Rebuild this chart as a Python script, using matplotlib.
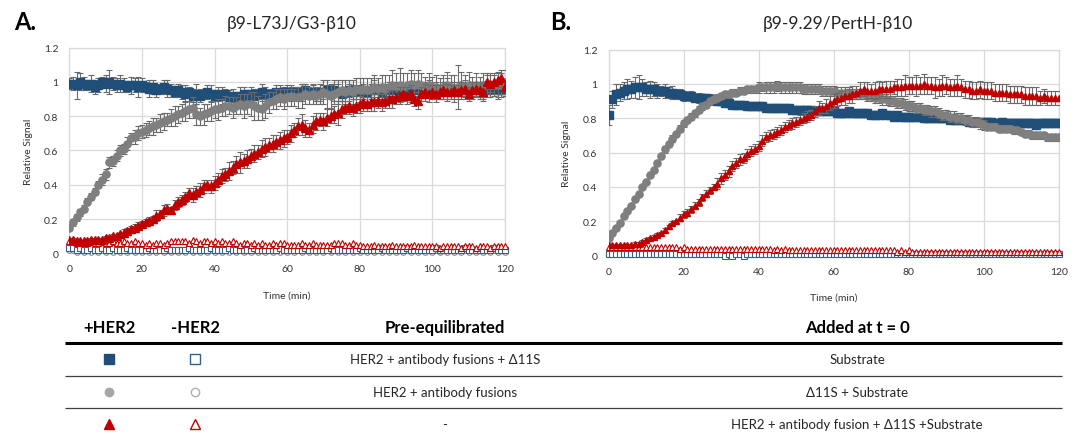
import numpy as np
import matplotlib
matplotlib.use("Agg")
import matplotlib.pyplot as plt

plt.rcParams['font.family'] = ['Lato', 'DejaVu Sans']

# time axis, one read every minute
time_min = np.arange(0, 121)

# ---- panel A: b9-L73J/G3-b10 ----
A_sq = [0.99, 0.99, 0.98, 1.00, 0.99, 0.98, 0.99, 0.97, 0.98, 1.00, 0.99,
        1.00, 0.99, 0.98, 0.99, 0.98, 0.97, 0.98, 0.98, 0.97, 0.98,
        0.97, 0.96, 0.97, 0.95, 0.96, 0.97, 0.96, 0.95, 0.94, 0.95,
        0.94, 0.93, 0.94, 0.92, 0.93, 0.92, 0.93, 0.94, 0.93, 0.92,
        0.93, 0.92, 0.93, 0.91, 0.92, 0.91, 0.92, 0.93, 0.92, 0.93,
        0.92, 0.93, 0.94, 0.93, 0.92, 0.93, 0.94, 0.93, 0.94, 0.94,
        0.93, 0.94, 0.93, 0.94, 0.95, 0.93, 0.94, 0.93, 0.94, 0.94,
        0.95, 0.94, 0.95, 0.94, 0.93, 0.94, 0.95, 0.94, 0.95, 0.94,
        0.95, 0.94, 0.95, 0.96, 0.95, 0.94, 0.95, 0.96, 0.95, 0.96,
        0.95, 0.96, 0.95, 0.96, 0.95, 0.96, 0.95, 0.96, 0.97, 0.96,
        0.96, 0.95, 0.96, 0.97, 0.96, 0.95, 0.96, 0.96, 0.95, 0.96,
        0.96, 0.95, 0.96, 0.95, 0.95, 0.96, 0.96, 0.95, 0.95, 0.96]
A_sq_err = [0.03, 0.04, 0.08, 0.05, 0.04, 0.03, 0.05, 0.04, 0.04, 0.03, 0.05,
            0.07, 0.04, 0.04, 0.05, 0.04, 0.03, 0.05, 0.04, 0.06, 0.04,
            0.03, 0.05, 0.04, 0.04, 0.03, 0.04, 0.05, 0.04, 0.03, 0.04,
            0.04, 0.05, 0.03, 0.04, 0.06, 0.04, 0.03, 0.04, 0.05, 0.03,
            0.04, 0.05, 0.03, 0.04, 0.04, 0.03, 0.05, 0.04, 0.03, 0.04,
            0.04, 0.03, 0.05, 0.04, 0.04, 0.03, 0.04, 0.05, 0.03, 0.04,
            0.04, 0.03, 0.04, 0.05, 0.04, 0.03, 0.04, 0.04, 0.05, 0.04,
            0.03, 0.04, 0.06, 0.05, 0.04, 0.03, 0.04, 0.04, 0.03, 0.04,
            0.04, 0.03, 0.04, 0.05, 0.04, 0.03, 0.04, 0.04, 0.03, 0.04,
            0.04, 0.03, 0.04, 0.04, 0.05, 0.04, 0.03, 0.04, 0.04, 0.03,
            0.04, 0.03, 0.04, 0.05, 0.04, 0.03, 0.04, 0.04, 0.03, 0.04,
            0.04, 0.03, 0.04, 0.05, 0.04, 0.03, 0.04, 0.05, 0.04, 0.04]

A_ci = [0.15, 0.18, 0.21, 0.24, 0.26, 0.30, 0.33, 0.36, 0.40, 0.43, 0.46,
        0.53, 0.54, 0.57, 0.60, 0.61, 0.64, 0.67, 0.68, 0.70, 0.71,
        0.72, 0.73, 0.74, 0.75, 0.76, 0.77, 0.78, 0.79, 0.80, 0.81,
        0.82, 0.83, 0.84, 0.85, 0.81, 0.80, 0.81, 0.82, 0.83, 0.84,
        0.84, 0.85, 0.86, 0.86, 0.85, 0.86, 0.87, 0.86, 0.87, 0.87,
        0.86, 0.85, 0.84, 0.86, 0.88, 0.89, 0.90, 0.91, 0.90, 0.91,
        0.92, 0.91, 0.91, 0.92, 0.93, 0.92, 0.93, 0.92, 0.93, 0.94,
        0.93, 0.92, 0.93, 0.94, 0.95, 0.94, 0.95, 0.94, 0.96, 0.95,
        0.96, 0.95, 0.96, 0.97, 0.96, 0.97, 0.96, 0.97, 0.98, 0.97,
        0.98, 0.97, 0.98, 0.99, 0.98, 0.99, 0.98, 0.97, 0.98, 0.97,
        0.97, 0.96, 0.97, 0.98, 0.97, 0.96, 0.97, 0.98, 0.97, 0.98,
        0.97, 0.98, 0.97, 0.98, 0.99, 0.98, 0.99, 0.98, 0.99, 1.00]
A_ci_err = [0.01, 0.02, 0.02, 0.02, 0.02, 0.02, 0.02, 0.02, 0.02, 0.03, 0.03,
            0.03, 0.03, 0.03, 0.03, 0.03, 0.04, 0.03, 0.04, 0.04, 0.04,
            0.04, 0.04, 0.05, 0.04, 0.05, 0.05, 0.04, 0.05, 0.06, 0.05,
            0.05, 0.06, 0.05, 0.06, 0.06, 0.05, 0.06, 0.05, 0.06, 0.05,
            0.06, 0.05, 0.06, 0.05, 0.06, 0.05, 0.06, 0.07, 0.06, 0.07,
            0.08, 0.07, 0.06, 0.07, 0.06, 0.05, 0.06, 0.05, 0.06, 0.05,
            0.06, 0.05, 0.06, 0.07, 0.06, 0.05, 0.06, 0.05, 0.06, 0.07,
            0.08, 0.07, 0.06, 0.07, 0.06, 0.07, 0.06, 0.07, 0.06, 0.07,
            0.06, 0.07, 0.06, 0.07, 0.06, 0.07, 0.08, 0.07, 0.09, 0.08,
            0.10, 0.08, 0.07, 0.08, 0.07, 0.08, 0.07, 0.06, 0.07, 0.06,
            0.07, 0.06, 0.07, 0.08, 0.07, 0.08, 0.13, 0.08, 0.07, 0.08,
            0.06, 0.07, 0.06, 0.07, 0.06, 0.07, 0.06, 0.07, 0.06, 0.07]

A_tri = [0.08, 0.08, 0.07, 0.07, 0.07, 0.07, 0.08, 0.08, 0.08, 0.08, 0.09,
         0.09, 0.10, 0.10, 0.11, 0.12, 0.13, 0.14, 0.15, 0.16, 0.17,
         0.18, 0.19, 0.20, 0.22, 0.23, 0.25, 0.26, 0.25, 0.28, 0.30,
         0.31, 0.33, 0.35, 0.34, 0.36, 0.37, 0.39, 0.40, 0.39, 0.41,
         0.43, 0.45, 0.46, 0.48, 0.50, 0.52, 0.53, 0.54, 0.55, 0.57,
         0.58, 0.59, 0.61, 0.62, 0.63, 0.64, 0.65, 0.66, 0.67, 0.68,
         0.70, 0.72, 0.74, 0.75, 0.73, 0.72, 0.75, 0.77, 0.78, 0.77,
         0.79, 0.80, 0.81, 0.82, 0.84, 0.85, 0.86, 0.85, 0.86, 0.87,
         0.88, 0.87, 0.88, 0.88, 0.89, 0.88, 0.89, 0.90, 0.90, 0.91,
         0.92, 0.93, 0.92, 0.93, 0.90, 0.89, 0.93, 0.94, 0.93, 0.94,
         0.93, 0.94, 0.95, 0.94, 0.94, 0.95, 0.94, 0.95, 0.96, 0.93,
         0.95, 0.96, 0.95, 0.94, 1.00, 0.99, 1.00, 1.01, 1.02, 0.97]
A_tri_err = [0.01, 0.01, 0.01, 0.01, 0.01, 0.01, 0.01, 0.01, 0.01, 0.01, 0.01,
             0.01, 0.01, 0.01, 0.01, 0.02, 0.02, 0.02, 0.02, 0.02, 0.02,
             0.02, 0.02, 0.02, 0.03, 0.02, 0.03, 0.03, 0.02, 0.03, 0.03,
             0.03, 0.03, 0.03, 0.04, 0.03, 0.04, 0.04, 0.03, 0.04, 0.04,
             0.04, 0.04, 0.04, 0.05, 0.04, 0.05, 0.06, 0.04, 0.05, 0.04,
             0.05, 0.04, 0.05, 0.05, 0.04, 0.05, 0.04, 0.05, 0.05, 0.04,
             0.05, 0.04, 0.05, 0.06, 0.05, 0.04, 0.05, 0.05, 0.04, 0.05,
             0.05, 0.04, 0.05, 0.07, 0.05, 0.04, 0.05, 0.05, 0.04, 0.05,
             0.05, 0.04, 0.05, 0.05, 0.04, 0.05, 0.04, 0.05, 0.05, 0.04,
             0.05, 0.04, 0.05, 0.05, 0.04, 0.05, 0.04, 0.05, 0.05, 0.04,
             0.05, 0.04, 0.05, 0.05, 0.04, 0.05, 0.04, 0.05, 0.05, 0.04,
             0.05, 0.04, 0.05, 0.05, 0.04, 0.05, 0.04, 0.05, 0.05, 0.04]

A_tri_open = [0.07, 0.07, 0.06, 0.06, 0.06, 0.06, 0.07, 0.06, 0.06, 0.07, 0.06,
              0.06, 0.07, 0.06, 0.06, 0.07, 0.06, 0.06, 0.07, 0.06, 0.06,
              0.05, 0.06, 0.05, 0.06, 0.06, 0.05, 0.06, 0.07, 0.07, 0.07,
              0.07, 0.07, 0.06, 0.08, 0.07, 0.06, 0.07, 0.07, 0.06, 0.07,
              0.06, 0.07, 0.06, 0.06, 0.07, 0.06, 0.05, 0.06, 0.06, 0.05,
              0.06, 0.05, 0.06, 0.05, 0.05, 0.06, 0.05, 0.06, 0.06, 0.05,
              0.05, 0.05, 0.05, 0.06, 0.05, 0.05, 0.06, 0.05, 0.05, 0.05,
              0.05, 0.05, 0.06, 0.06, 0.06, 0.05, 0.05, 0.06, 0.05, 0.05,
              0.04, 0.04, 0.04, 0.05, 0.04, 0.04, 0.04, 0.04, 0.05, 0.04,
              0.04, 0.04, 0.04, 0.04, 0.05, 0.04, 0.04, 0.04, 0.04, 0.04,
              0.04, 0.03, 0.04, 0.04, 0.04, 0.04, 0.04, 0.03, 0.04, 0.04,
              0.04, 0.03, 0.04, 0.04, 0.04, 0.03, 0.04, 0.04, 0.04, 0.04]
A_sq_open = [0.03, 0.03, 0.02, 0.03, 0.02, 0.02, 0.03, 0.02, 0.02, 0.03, 0.02,
             0.02, 0.03, 0.02, 0.02, 0.02, 0.03, 0.02, 0.02, 0.02, 0.02,
             0.02, 0.03, 0.02, 0.02, 0.02, 0.02, 0.03, 0.02, 0.02, 0.02,
             0.02, 0.02, 0.03, 0.02, 0.02, 0.02, 0.02, 0.02, 0.03, 0.02,
             0.02, 0.02, 0.02, 0.03, 0.02, 0.02, 0.02, 0.02, 0.02, 0.02,
             0.03, 0.02, 0.02, 0.02, 0.02, 0.02, 0.02, 0.03, 0.02, 0.02,
             0.02, 0.02, 0.02, 0.02, 0.03, 0.02, 0.02, 0.02, 0.02, 0.02,
             0.02, 0.03, 0.02, 0.02, 0.02, 0.02, 0.02, 0.02, 0.02, 0.03,
             0.02, 0.02, 0.02, 0.02, 0.02, 0.03, 0.02, 0.02, 0.02, 0.02,
             0.02, 0.02, 0.03, 0.02, 0.02, 0.02, 0.02, 0.02, 0.02, 0.02,
             0.03, 0.02, 0.02, 0.02, 0.02, 0.02, 0.02, 0.02, 0.03, 0.02,
             0.02, 0.02, 0.02, 0.02, 0.02, 0.02, 0.03, 0.02, 0.02, 0.02]
A_ci_open = [0.02, 0.02, 0.01, 0.02, 0.01, 0.02, 0.01, 0.02, 0.01, 0.02, 0.01,
             0.02, 0.01, 0.02, 0.01, 0.02, 0.01, 0.02, 0.01, 0.02, 0.01,
             0.02, 0.01, 0.02, 0.01, 0.02, 0.01, 0.02, 0.01, 0.02, 0.01,
             0.02, 0.01, 0.02, 0.01, 0.02, 0.01, 0.02, 0.01, 0.02, 0.01,
             0.02, 0.01, 0.02, 0.01, 0.02, 0.01, 0.02, 0.01, 0.02, 0.01,
             0.02, 0.01, 0.02, 0.01, 0.02, 0.01, 0.02, 0.01, 0.02, 0.01,
             0.02, 0.01, 0.02, 0.01, 0.02, 0.01, 0.02, 0.01, 0.02, 0.01,
             0.02, 0.01, 0.02, 0.01, 0.02, 0.01, 0.02, 0.01, 0.02, 0.01,
             0.02, 0.01, 0.02, 0.01, 0.02, 0.01, 0.02, 0.01, 0.02, 0.01,
             0.02, 0.01, 0.02, 0.01, 0.02, 0.01, 0.02, 0.01, 0.02, 0.01,
             0.02, 0.01, 0.02, 0.01, 0.02, 0.01, 0.02, 0.01, 0.02, 0.01,
             0.02, 0.01, 0.02, 0.01, 0.02, 0.01, 0.02, 0.01, 0.02, 0.01]

# ---- panel B: b9-9.29/PertH-b10 ----
B_sq = [0.82, 0.91, 0.94, 0.95, 0.96, 0.97, 0.97, 0.98, 0.98, 0.98, 0.97,
        0.97, 0.97, 0.96, 0.96, 0.96, 0.95, 0.95, 0.94, 0.94, 0.93,
        0.93, 0.93, 0.92, 0.92, 0.92, 0.92, 0.91, 0.91, 0.90, 0.90,
        0.89, 0.89, 0.88, 0.88, 0.88, 0.88, 0.87, 0.87, 0.87, 0.87,
        0.87, 0.86, 0.86, 0.86, 0.86, 0.86, 0.86, 0.86, 0.85, 0.85,
        0.85, 0.85, 0.85, 0.85, 0.84, 0.84, 0.84, 0.84, 0.84, 0.84,
        0.83, 0.83, 0.83, 0.84, 0.83, 0.83, 0.83, 0.83, 0.83, 0.82,
        0.82, 0.82, 0.83, 0.82, 0.82, 0.81, 0.82, 0.81, 0.81, 0.81,
        0.81, 0.81, 0.81, 0.80, 0.80, 0.80, 0.80, 0.80, 0.80, 0.80,
        0.79, 0.79, 0.79, 0.79, 0.79, 0.78, 0.78, 0.78, 0.78, 0.78,
        0.78, 0.78, 0.77, 0.77, 0.78, 0.77, 0.77, 0.77, 0.77, 0.77,
        0.77, 0.77, 0.77, 0.76, 0.77, 0.77, 0.77, 0.77, 0.77, 0.77]
B_sq_err = [0.06, 0.05, 0.06, 0.05, 0.05, 0.06, 0.05, 0.06, 0.07, 0.05, 0.04,
            0.05, 0.04, 0.04, 0.03, 0.04, 0.03, 0.04, 0.03, 0.03, 0.03,
            0.02, 0.03, 0.02, 0.03, 0.02, 0.02, 0.03, 0.02, 0.02, 0.02,
            0.02, 0.02, 0.02, 0.02, 0.02, 0.02, 0.02, 0.02, 0.02, 0.02,
            0.02, 0.02, 0.02, 0.02, 0.02, 0.02, 0.02, 0.02, 0.02, 0.02,
            0.02, 0.02, 0.02, 0.02, 0.02, 0.02, 0.02, 0.02, 0.02, 0.02,
            0.02, 0.02, 0.02, 0.02, 0.02, 0.02, 0.02, 0.02, 0.02, 0.02,
            0.02, 0.02, 0.02, 0.02, 0.02, 0.02, 0.02, 0.02, 0.02, 0.02,
            0.02, 0.02, 0.02, 0.02, 0.02, 0.02, 0.02, 0.02, 0.02, 0.02,
            0.02, 0.02, 0.02, 0.02, 0.02, 0.02, 0.02, 0.02, 0.02, 0.02,
            0.02, 0.02, 0.02, 0.02, 0.02, 0.02, 0.02, 0.02, 0.02, 0.02,
            0.02, 0.02, 0.02, 0.02, 0.02, 0.02, 0.02, 0.02, 0.02, 0.02]

B_ci = [0.10, 0.13, 0.16, 0.19, 0.23, 0.26, 0.29, 0.33, 0.36, 0.40, 0.43,
        0.47, 0.50, 0.54, 0.58, 0.62, 0.65, 0.68, 0.71, 0.74, 0.77,
        0.79, 0.81, 0.83, 0.85, 0.87, 0.88, 0.90, 0.91, 0.92, 0.93,
        0.94, 0.94, 0.95, 0.95, 0.96, 0.96, 0.97, 0.97, 0.97, 0.98,
        0.98, 0.98, 0.98, 0.98, 0.99, 0.98, 0.98, 0.98, 0.98, 0.98,
        0.98, 0.97, 0.97, 0.97, 0.97, 0.97, 0.96, 0.96, 0.96, 0.96,
        0.95, 0.95, 0.95, 0.95, 0.94, 0.94, 0.94, 0.94, 0.93, 0.93,
        0.92, 0.92, 0.91, 0.91, 0.90, 0.90, 0.89, 0.89, 0.88, 0.87,
        0.87, 0.86, 0.86, 0.85, 0.85, 0.84, 0.84, 0.83, 0.82, 0.82,
        0.81, 0.81, 0.80, 0.80, 0.79, 0.79, 0.78, 0.78, 0.77, 0.76,
        0.75, 0.75, 0.75, 0.74, 0.74, 0.74, 0.74, 0.73, 0.73, 0.72,
        0.71, 0.71, 0.70, 0.70, 0.70, 0.70, 0.69, 0.69, 0.69, 0.69]
B_ci_err = [0.01, 0.01, 0.01, 0.01, 0.01, 0.01, 0.01, 0.01, 0.01, 0.01, 0.01,
            0.01, 0.01, 0.01, 0.01, 0.02, 0.01, 0.02, 0.01, 0.02, 0.02,
            0.02, 0.02, 0.02, 0.02, 0.02, 0.02, 0.02, 0.02, 0.02, 0.02,
            0.02, 0.02, 0.02, 0.02, 0.02, 0.02, 0.02, 0.02, 0.02, 0.03,
            0.02, 0.03, 0.03, 0.03, 0.03, 0.03, 0.03, 0.03, 0.03, 0.03,
            0.03, 0.03, 0.03, 0.03, 0.03, 0.03, 0.03, 0.03, 0.03, 0.03,
            0.03, 0.03, 0.03, 0.03, 0.03, 0.03, 0.03, 0.03, 0.03, 0.03,
            0.03, 0.03, 0.03, 0.03, 0.03, 0.03, 0.03, 0.03, 0.03, 0.03,
            0.03, 0.03, 0.03, 0.03, 0.03, 0.03, 0.03, 0.03, 0.03, 0.03,
            0.03, 0.03, 0.03, 0.03, 0.03, 0.03, 0.03, 0.03, 0.03, 0.03,
            0.02, 0.02, 0.02, 0.02, 0.02, 0.02, 0.02, 0.02, 0.02, 0.02,
            0.02, 0.02, 0.02, 0.02, 0.02, 0.02, 0.02, 0.02, 0.02, 0.02]

B_tri = [0.06, 0.06, 0.06, 0.06, 0.06, 0.06, 0.06, 0.07, 0.07, 0.08, 0.09,
         0.10, 0.11, 0.12, 0.13, 0.15, 0.17, 0.19, 0.20, 0.22, 0.24,
         0.25, 0.27, 0.29, 0.31, 0.34, 0.36, 0.38, 0.40, 0.42, 0.45,
         0.47, 0.49, 0.52, 0.54, 0.56, 0.57, 0.59, 0.61, 0.62, 0.64,
         0.67, 0.69, 0.70, 0.71, 0.72, 0.73, 0.75, 0.76, 0.77, 0.78,
         0.79, 0.80, 0.81, 0.82, 0.84, 0.86, 0.86, 0.87, 0.89, 0.90,
         0.91, 0.92, 0.93, 0.93, 0.94, 0.95, 0.96, 0.97, 0.96, 0.96,
         0.96, 0.97, 0.97, 0.97, 0.97, 0.98, 0.98, 0.98, 0.99, 0.99,
         0.99, 0.99, 0.99, 1.00, 0.99, 0.99, 0.98, 0.98, 0.99, 0.99,
         0.98, 0.98, 0.99, 0.98, 0.97, 0.97, 0.96, 0.96, 0.97, 0.96,
         0.96, 0.96, 0.95, 0.95, 0.95, 0.95, 0.94, 0.94, 0.94, 0.94,
         0.93, 0.93, 0.93, 0.93, 0.92, 0.93, 0.92, 0.92, 0.92, 0.92]
B_tri_err = [0.01, 0.01, 0.01, 0.01, 0.01, 0.01, 0.01, 0.01, 0.01, 0.01, 0.01,
             0.01, 0.01, 0.01, 0.01, 0.01, 0.01, 0.01, 0.01, 0.02, 0.02,
             0.02, 0.02, 0.02, 0.02, 0.02, 0.02, 0.02, 0.02, 0.03, 0.03,
             0.03, 0.03, 0.03, 0.03, 0.03, 0.03, 0.03, 0.03, 0.03, 0.03,
             0.03, 0.03, 0.03, 0.03, 0.03, 0.03, 0.03, 0.03, 0.03, 0.03,
             0.03, 0.03, 0.03, 0.03, 0.03, 0.04, 0.03, 0.04, 0.04, 0.04,
             0.04, 0.04, 0.05, 0.04, 0.05, 0.04, 0.05, 0.04, 0.05, 0.04,
             0.05, 0.05, 0.04, 0.05, 0.05, 0.04, 0.05, 0.05, 0.06, 0.05,
             0.05, 0.06, 0.05, 0.06, 0.05, 0.05, 0.06, 0.05, 0.06, 0.05,
             0.05, 0.05, 0.06, 0.05, 0.05, 0.05, 0.05, 0.05, 0.05, 0.05,
             0.05, 0.05, 0.05, 0.05, 0.05, 0.05, 0.05, 0.05, 0.05, 0.05,
             0.05, 0.05, 0.05, 0.05, 0.04, 0.04, 0.04, 0.04, 0.04, 0.04]

B_tri_open = [0.05, 0.05, 0.05, 0.05, 0.05, 0.05, 0.05, 0.05, 0.05, 0.05, 0.05,
              0.05, 0.05, 0.05, 0.05, 0.05, 0.05, 0.05, 0.05, 0.04, 0.05,
              0.04, 0.04, 0.04, 0.04, 0.04, 0.04, 0.04, 0.04, 0.04, 0.04,
              0.04, 0.04, 0.04, 0.04, 0.04, 0.04, 0.04, 0.04, 0.04, 0.04,
              0.04, 0.04, 0.04, 0.03, 0.04, 0.03, 0.04, 0.03, 0.03, 0.03,
              0.03, 0.03, 0.03, 0.03, 0.03, 0.03, 0.03, 0.03, 0.03, 0.03,
              0.03, 0.03, 0.03, 0.03, 0.03, 0.03, 0.03, 0.03, 0.03, 0.03,
              0.03, 0.03, 0.03, 0.03, 0.03, 0.03, 0.02, 0.03, 0.02, 0.03,
              0.02, 0.02, 0.02, 0.02, 0.02, 0.02, 0.02, 0.02, 0.02, 0.02,
              0.02, 0.02, 0.02, 0.02, 0.02, 0.02, 0.02, 0.02, 0.02, 0.02,
              0.02, 0.02, 0.02, 0.02, 0.02, 0.02, 0.02, 0.02, 0.02, 0.02,
              0.02, 0.02, 0.02, 0.02, 0.02, 0.02, 0.02, 0.02, 0.02, 0.02]
B_sq_open = [0.01, 0.01, 0.01, 0.01, 0.01, 0.01, 0.01, 0.01, 0.01, 0.01, 0.01,
             0.01, 0.01, 0.01, 0.01, 0.01, 0.01, 0.01, 0.01, 0.01, 0.01,
             0.01, 0.01, 0.01, 0.01, 0.01, 0.01, 0.01, 0.01, 0.01, 0.01,
             0.00, 0.01, 0.00, 0.01, 0.01, 0.00, 0.01, 0.01, 0.01, 0.01,
             0.01, 0.01, 0.01, 0.01, 0.01, 0.01, 0.01, 0.01, 0.01, 0.01,
             0.01, 0.01, 0.01, 0.01, 0.01, 0.01, 0.01, 0.01, 0.01, 0.01,
             0.01, 0.01, 0.01, 0.01, 0.01, 0.01, 0.01, 0.01, 0.01, 0.01,
             0.01, 0.01, 0.01, 0.01, 0.01, 0.01, 0.01, 0.01, 0.01, 0.01,
             0.01, 0.01, 0.01, 0.01, 0.01, 0.01, 0.01, 0.01, 0.01, 0.01,
             0.01, 0.01, 0.01, 0.01, 0.01, 0.01, 0.01, 0.01, 0.01, 0.01,
             0.01, 0.01, 0.01, 0.01, 0.01, 0.01, 0.01, 0.01, 0.01, 0.01,
             0.01, 0.01, 0.01, 0.01, 0.01, 0.01, 0.01, 0.01, 0.01, 0.01]
B_ci_open = [0.02, 0.02, 0.02, 0.02, 0.02, 0.02, 0.02, 0.02, 0.02, 0.02, 0.02,
             0.02, 0.02, 0.02, 0.02, 0.02, 0.02, 0.02, 0.02, 0.02, 0.02,
             0.02, 0.02, 0.02, 0.02, 0.02, 0.02, 0.01, 0.02, 0.01, 0.01,
             0.01, 0.01, 0.01, 0.01, 0.01, 0.01, 0.01, 0.01, 0.01, 0.01,
             0.01, 0.01, 0.01, 0.01, 0.01, 0.01, 0.01, 0.01, 0.01, 0.01,
             0.01, 0.01, 0.01, 0.01, 0.01, 0.01, 0.01, 0.01, 0.01, 0.01,
             0.01, 0.01, 0.01, 0.01, 0.01, 0.01, 0.01, 0.01, 0.01, 0.01,
             0.01, 0.01, 0.01, 0.01, 0.01, 0.01, 0.01, 0.01, 0.01, 0.01,
             0.01, 0.01, 0.01, 0.01, 0.01, 0.01, 0.01, 0.01, 0.01, 0.01,
             0.01, 0.01, 0.01, 0.01, 0.01, 0.01, 0.01, 0.01, 0.01, 0.01,
             0.01, 0.01, 0.01, 0.01, 0.01, 0.01, 0.01, 0.01, 0.01, 0.01,
             0.01, 0.01, 0.01, 0.01, 0.01, 0.01, 0.01, 0.01, 0.01, 0.01]

PANEL_TITLES = ["\u03b29-L73J/G3-\u03b210", "\u03b29-9.29/PertH-\u03b210"]
PANEL_LETTERS = ["A.", "B."]
X_TICKS = [0, 20, 40, 60, 80, 100, 120]
Y_TICKS = [0, 0.2, 0.4, 0.6, 0.8, 1.0, 1.2]
Y_TICK_LABELS = ["0", "0.2", "0.4", "0.6", "0.8", "1", "1.2"]

TABLE_HEADER = ["+HER2", "-HER2", "Pre-equilibrated", "Added at t = 0"]
TABLE_PRE = ["HER2 + antibody fusions + \u039411S",
             "HER2 + antibody fusions",
             "-"]
TABLE_ADDED = ["Substrate",
               "\u039411S + Substrate",
               "HER2 + antibody fusion + \u039411S +Substrate"]

BLUE = "#1f4e79"
GREY = "#7f7f7f"
RED = "#c00000"
ERR = "#6a6a6a"

W, H = 1077, 435
fig = plt.figure(figsize=(W / 100, H / 100), dpi=100)

# axes boxes in pixels (left, top, right, bottom)
boxes = [(69.3, 48.6, 505.0, 254.3), (608.5, 50.6, 1058.7, 256.6)]
panels = [
    dict(sq=A_sq, sq_err=A_sq_err, ci=A_ci, ci_err=A_ci_err, tri=A_tri, tri_err=A_tri_err,
         sq_o=A_sq_open, ci_o=A_ci_open, tri_o=A_tri_open, ms=(6.0, 5.2, 6.0)),
    dict(sq=B_sq, sq_err=B_sq_err, ci=B_ci, ci_err=B_ci_err, tri=B_tri, tri_err=B_tri_err,
         sq_o=B_sq_open, ci_o=B_ci_open, tri_o=B_tri_open, ms=(5.8, 5.2, 4.6)),
]

for i, (box, p) in enumerate(zip(boxes, panels)):
    l, t, r, b = box
    ax = fig.add_axes([l / W, 1 - b / H, (r - l) / W, (b - t) / H])
    ax.set_xlim(0, 120)
    ax.set_ylim(0, 1.2)
    ax.set_xticks(X_TICKS)
    ax.set_yticks(Y_TICKS, Y_TICK_LABELS)
    ax.grid(True, color="#d9d9d9", lw=0.9)
    ax.set_axisbelow(True)
    for s in ax.spines.values():
        s.set_color("#d9d9d9")
        s.set_linewidth(0.9)
    ax.tick_params(length=0, labelsize=7.5, labelcolor="#333333", pad=8)

    # open (-HER2) series near zero
    ax.plot(time_min, p["ci_o"], "o", ms=4.0, mfc="white", mec="#8c8c8c", mew=0.8,
            zorder=3, clip_on=False)
    ax.plot(time_min, p["sq_o"], "s", ms=4.0, mfc="white", mec="#3b5f85", mew=0.8,
            zorder=3, clip_on=False)
    ax.plot(time_min, p["tri_o"], "^", ms=4.6, mfc="white", mec=RED, mew=0.8,
            zorder=3, clip_on=False)

    ms_sq, ms_ci, ms_tri = p["ms"]
    ax.errorbar(time_min, p["sq"], yerr=p["sq_err"], fmt="s", ms=ms_sq, color=BLUE,
                ecolor=ERR, elinewidth=0.8, capsize=2.5, capthick=0.8, zorder=4)
    ax.errorbar(time_min, p["ci"], yerr=p["ci_err"], fmt="o", ms=ms_ci, color=GREY,
                ecolor=ERR, elinewidth=0.8, capsize=2.5, capthick=0.8, zorder=5)
    ax.errorbar(time_min, p["tri"], yerr=p["tri_err"], fmt="^", ms=ms_tri, color=RED,
                ecolor=ERR, elinewidth=0.8, capsize=2.5, capthick=0.8, zorder=6)

    ax.set_xlabel("Time (min)", fontsize=7.5, color="#333333")
    ax.set_ylabel("Relative Signal", fontsize=7.5, color="#333333")
    ax.xaxis.set_label_coords(0.5, -0.18)
    ax.yaxis.set_label_coords(-0.083, 0.5)

    fig.text((l + r) / 2 / W + 0.004, 1 - 23.5 / H, PANEL_TITLES[i], fontsize=12.5,
             ha="center", va="center", color="#262626")

fig.text(14 / W, 1 - 22 / H, PANEL_LETTERS[0], fontsize=17, fontweight="bold",
         ha="left", va="center")
fig.text(550 / W, 1 - 22 / H, PANEL_LETTERS[1], fontsize=17, fontweight="bold",
         ha="left", va="center")

# ---- table below the panels, drawn on a pixel-space overlay axes ----
tab = fig.add_axes([0, 0, 1, 1])
tab.set_xlim(0, W)
tab.set_ylim(H, 0)
tab.axis("off")

col_x = [109, 195, 445, 857]
head_y = 328
row_y = [360, 393, 425]

for x, txt in zip(col_x, TABLE_HEADER):
    tab.text(x, head_y, txt, fontsize=12, fontweight="bold", ha="center", va="center")
tab.plot([65, 1062], [344, 344], color="black", lw=2.2, solid_capstyle="butt")
tab.plot([65, 1062], [377, 377], color="#404040", lw=0.9, solid_capstyle="butt")
tab.plot([65, 1062], [409, 409], color="#404040", lw=0.9, solid_capstyle="butt")

filled = [("s", BLUE, 6.5), ("o", "#a6a6a6", 6.0), ("^", RED, 7.0)]
opened = [("s", "#2e6196", 6.5), ("o", "#b0b0b0", 6.0), ("^", RED, 7.0)]
for k, y in enumerate(row_y):
    m, c, s = filled[k]
    tab.plot(col_x[0], y, m, color=c, ms=s)
    m, c, s = opened[k]
    tab.plot(col_x[1], y, m, mfc="white", mec=c, ms=s, mew=1.0)
    tab.text(col_x[2], y, TABLE_PRE[k], fontsize=9.5, ha="center", va="center", color="#262626")
    tab.text(col_x[3], y, TABLE_ADDED[k], fontsize=9.5, ha="center", va="center", color="#262626")

fig.savefig("out.png", dpi=100)
